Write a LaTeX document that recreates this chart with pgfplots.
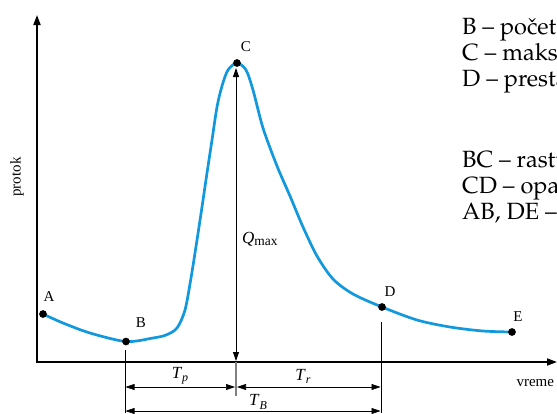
\documentclass[border=0pt]{standalone}
\usepackage[T1]{fontenc}
\usepackage{fontspec}
\setmainfont{Liberation Serif}
\usepackage{pgfplots}
\pgfplotsset{compat=1.18}
\usetikzlibrary{arrows.meta}

\definecolor{hydro}{RGB}{18,152,221}
\newcommand{\pal}{\fontencoding{T1}\fontfamily{ppl}\fontsize{23.5}{27}\selectfont}
\newcommand{\lblfont}{\fontsize{15}{18}\selectfont}
\tikzset{
  lbl/.style={font=\lblfont},
  side/.style={anchor=base west, inner sep=0pt, font=\pal},
  dim/.style={line width=0.6pt, {Triangle[length=9pt,width=6pt]}-{Triangle[length=9pt,width=6pt]}},
}

\begin{document}
\begin{tikzpicture}
\path[use as bounding box] (0,0) rectangle (557pt,413pt);
\clip (0,0) rectangle (557pt,413pt);
\begin{axis}[
  at={(0,0)}, anchor=south west,
  x=1pt, y=1pt,
  xmin=0, xmax=557, ymin=0, ymax=413,
  y dir=reverse,
  hide axis, clip=false,
]
% coordinate axes
\draw[line width=1.8pt, line join=miter,
  {Triangle[length=10pt,width=7pt]}-{Triangle[length=10pt,width=7pt]}]
  (axis cs:37,15) -- (axis cs:37,362) -- (axis cs:557,362);
\node[lbl, rotate=90] at (axis cs:17,177) {protok};
\node[lbl, anchor=west] at (axis cs:513,383) {vreme};

% hydrograph
\addplot[smooth, color=hydro, line width=2.7pt] coordinates {
  (43,314) (63,323) (90,333) (126,341.5) (153,338) (166,335)
  (177,328) (185,310) (191,278) (197,240) (202,207) (207,173)
  (212,140) (217,107) (222,86) (228,70) (237,63) (246,70)
  (253,90) (263,128) (277,166) (290,196) (303,227) (317,256)
  (333,279) (353,294) (382,307) (417,320) (450,327) (483,331)
  (512,332)
};
\addplot[only marks, mark=*, mark size=3.6pt, black] coordinates {
  (43,314) (126,341.5) (237,63) (382,307) (512,332)
};
\node[lbl] at (axis cs:49,297) {A};
\node[lbl] at (axis cs:141,323) {B};
\node[lbl] at (axis cs:246,47) {C};
\node[lbl] at (axis cs:390,292) {D};
\node[lbl] at (axis cs:518,317) {E};

% peak discharge
\draw[line width=0.8pt, {Triangle[length=9pt,width=6pt]}-{Triangle[length=9pt,width=6pt]}]
  (axis cs:236,68) -- (axis cs:236,361);
\node[anchor=base west, inner sep=0pt] at (axis cs:242,243)
  {\fontsize{17}{18}\selectfont\textit{Q}\raisebox{-0.3ex}{\fontsize{13.5}{16}\selectfont max}};

% time base
\draw[gray, line width=1.5pt] (axis cs:236,362) -- (axis cs:236,396);
\draw[line width=0.6pt] (axis cs:125,350) -- (axis cs:125,413);
\draw[line width=0.6pt] (axis cs:381,322) -- (axis cs:381,413);
\draw[dim] (axis cs:125.5,387) -- (axis cs:235,387);
\draw[dim] (axis cs:237,387) -- (axis cs:380.5,387);
\draw[dim] (axis cs:125.5,411) -- (axis cs:380.5,411);
\node at (axis cs:180,376) {\fontsize{17}{18}\selectfont\textit{T}\raisebox{-0.4ex}{\fontsize{12}{14}\selectfont\textit{p}}};
\node at (axis cs:303,376) {\fontsize{17}{18}\selectfont\textit{T}\raisebox{-0.4ex}{\fontsize{12}{14}\selectfont\textit{r}}};
\node at (axis cs:258,402) {\fontsize{17}{18}\selectfont\textit{T}\raisebox{-0.4ex}{\fontsize{12}{14}\selectfont\textit{B}}};

% legend of points and segments
\node[side] at (axis cs:462,34) {B -- po\v{c}etak direktnog oticaja};
\node[side] at (axis cs:462,60) {C -- maksimalni protok};
\node[side] at (axis cs:462,86) {D -- prestanak direktnog oticaja};
\node[side] at (axis cs:462,167) {BC -- rastu\'ca grana};
\node[side] at (axis cs:462,193) {CD -- opadaju\'ca grana};
\node[side] at (axis cs:462,219) {AB, DE -- bazni oticaj};
\end{axis}
\end{tikzpicture}
\end{document}
